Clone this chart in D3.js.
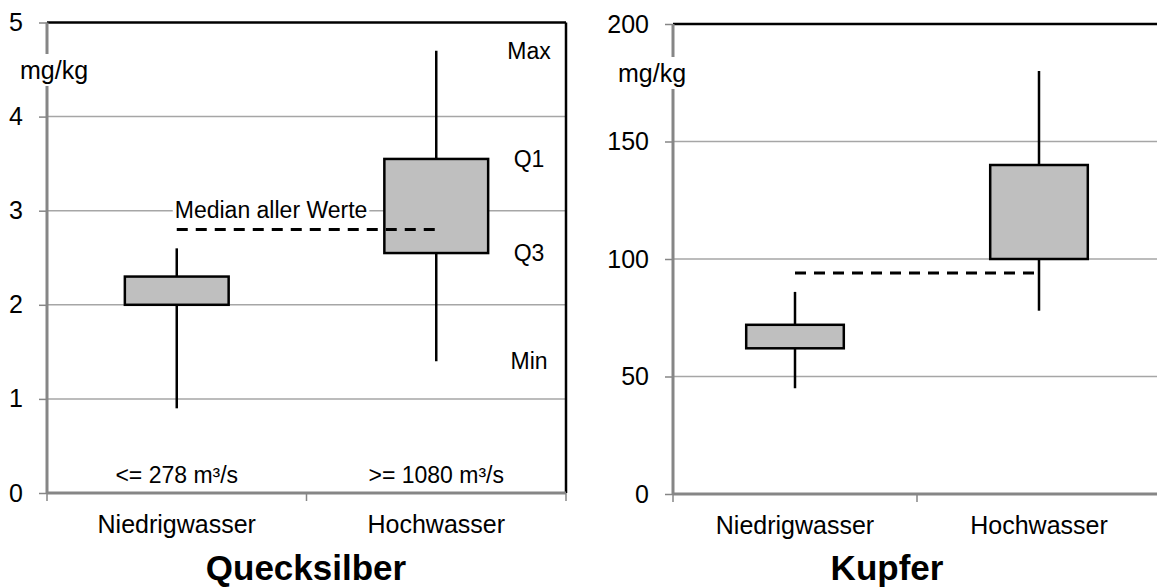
<!DOCTYPE html>
<html>
<head>
<meta charset="utf-8">
<script src="https://cdn.jsdelivr.net/npm/d3@7"></script>
<style>
  body { margin: 0; background: #fff; }
  svg { display: block; font-family: "Liberation Sans", Arial, sans-serif; }
</style>
</head>
<body>
<svg id="chart" width="1157" height="587"></svg>
<script>
// categories shared by both panels
const categories = ["Niedrigwasser", "Hochwasser"];
const flowLabels = ["<= 278 m³/s", ">= 1080 m³/s"];
const statLabels = ["Max", "Q1", "Q3", "Min"];

// Quecksilber (mg/kg)
const hgMin = [0.9, 1.4];
const hgBoxLow = [2.0, 2.55];
const hgBoxHigh = [2.3, 3.55];
const hgMax = [2.6, 4.7];
const hgMedianAll = 2.8;
const hgTicks = [0, 1, 2, 3, 4, 5];

// Kupfer (mg/kg)
const cuMin = [45, 78];
const cuBoxLow = [62, 100];
const cuBoxHigh = [72, 140];
const cuMax = [86, 180];
const cuMedianAll = 94;
const cuTicks = [0, 50, 100, 150, 200];

const svg = d3.select("#chart");

function drawPanel(p) {
  const g = svg.append("g");

  const x = d3.scaleBand()
    .domain(categories)
    .range([p.left, p.right]);

  const y = d3.scaleLinear()
    .domain([0, d3.max(p.ticks)])
    .range([p.bottom, p.top]);

  const cx = d => x(d) + x.bandwidth() / 2;
  const yTop = y(d3.max(p.ticks));

  // grid lines
  g.append("g")
    .selectAll("line")
    .data(p.ticks.filter(t => t > 0 && t < d3.max(p.ticks)))
    .join("line")
    .attr("x1", p.left).attr("x2", p.frameRight)
    .attr("y1", d => y(d)).attr("y2", d => y(d))
    .attr("stroke", "#a6a6a6")
    .attr("stroke-width", 1.5);

  // top frame and right frame
  g.append("line")
    .attr("x1", p.left).attr("x2", p.frameRight)
    .attr("y1", yTop).attr("y2", yTop)
    .attr("stroke", "#000").attr("stroke-width", 2.5);
  if (p.frameRight < 1157) {
    g.append("line")
      .attr("x1", p.frameRight).attr("x2", p.frameRight)
      .attr("y1", yTop).attr("y2", y(0))
      .attr("stroke", "#000").attr("stroke-width", 2.5);
  }

  // y axis
  const yAxis = g.append("g")
    .attr("transform", `translate(${p.left},0)`)
    .call(d3.axisLeft(y).tickValues(p.ticks).tickFormat(d3.format("d"))
      .tickSize(8).tickPadding(16));
  yAxis.select(".domain").attr("stroke", "#868686").attr("stroke-width", 3)
    .attr("d", `M0,${yTop}V${y(0)}`);
  yAxis.selectAll(".tick line").attr("stroke", "#868686").attr("stroke-width", 1.5);
  yAxis.selectAll(".tick text")
    .attr("fill", "#000")
    .attr("font-size", 25)
    .attr("font-family", "Liberation Sans, Arial, sans-serif");

  // x axis
  g.append("line")
    .attr("x1", p.left).attr("x2", p.frameRight)
    .attr("y1", y(0)).attr("y2", y(0))
    .attr("stroke", "#868686").attr("stroke-width", 3);
  const bounds = categories.map(c => x(c)).concat([p.right]);
  g.append("g")
    .selectAll("line")
    .data(bounds)
    .join("line")
    .attr("x1", d => d).attr("x2", d => d)
    .attr("y1", y(0)).attr("y2", y(0) + 8)
    .attr("stroke", "#868686").attr("stroke-width", 1.5);

  g.append("g")
    .selectAll("text")
    .data(categories)
    .join("text")
    .attr("x", d => cx(d))
    .attr("y", y(0) + 40)
    .attr("text-anchor", "middle")
    .style("font-size", "25px")
    .text(d => d);

  // unit label with white background over the axis
  const unit = g.append("text")
    .attr("x", p.unitX)
    .attr("y", p.unitY)
    .attr("text-anchor", "middle")
    .style("font-size", "25px")
    .text("mg/kg");
  const ub = unit.node().getBBox();
  g.insert("rect", () => unit.node())
    .attr("x", ub.x - 2).attr("y", ub.y - 2)
    .attr("width", ub.width + 4).attr("height", ub.height + 4)
    .attr("fill", "#fff");

  const data = categories.map((c, i) => ({
    cat: c, min: p.min[i], lo: p.lo[i], hi: p.hi[i], max: p.max[i]
  }));
  const boxW = x.bandwidth() * 0.4;

  // whiskers
  g.append("g")
    .selectAll("line")
    .data(data)
    .join("line")
    .attr("x1", d => cx(d.cat)).attr("x2", d => cx(d.cat))
    .attr("y1", d => y(d.min)).attr("y2", d => y(d.max))
    .attr("stroke", "#000").attr("stroke-width", 2.5);

  // boxes
  g.append("g")
    .selectAll("rect")
    .data(data)
    .join("rect")
    .attr("x", d => cx(d.cat) - boxW / 2)
    .attr("width", boxW)
    .attr("y", d => y(d.hi))
    .attr("height", d => y(d.lo) - y(d.hi))
    .attr("fill", "#bfbfbf")
    .attr("stroke", "#000")
    .attr("stroke-width", 2.5);

  // median of all values
  g.append("line")
    .attr("x1", cx(categories[0])).attr("x2", cx(categories[1]))
    .attr("y1", y(p.median)).attr("y2", y(p.median))
    .attr("stroke", "#000").attr("stroke-width", 3)
    .attr("stroke-dasharray", "11,8");

  if (p.annotate) {
    const med = g.append("text")
      .attr("x", cx(categories[0]) - 2)
      .attr("y", y(p.median) - 12)
      .style("font-size", "23px")
      .text("Median aller Werte");
    const mb = med.node().getBBox();
    g.insert("rect", () => med.node())
      .attr("x", mb.x - 2).attr("y", mb.y + 3)
      .attr("width", mb.width + 4).attr("height", mb.height - 6)
      .attr("fill", "#fff");

    const statVals = [p.max[1], p.hi[1], p.lo[1], p.min[1]];
    g.append("g")
      .selectAll("text")
      .data(statLabels)
      .join("text")
      .attr("x", p.statX)
      .attr("y", (d, i) => y(statVals[i]))
      .attr("dy", "0.35em")
      .attr("text-anchor", "middle")
      .style("font-size", "23px")
      .text(d => d);

    g.append("g")
      .selectAll("text")
      .data(flowLabels)
      .join("text")
      .attr("x", (d, i) => cx(categories[i]))
      .attr("y", y(0) - 10)
      .attr("text-anchor", "middle")
      .style("font-size", "23px")
      .text(d => d);
  }

  g.append("text")
    .attr("x", p.titleX)
    .attr("y", 580)
    .attr("text-anchor", "middle")
    .style("font-size", "35px")
    .style("font-weight", "bold")
    .text(p.title);
}

drawPanel({
  title: "Quecksilber", titleX: 306,
  left: 47, right: 566, frameRight: 566, top: 22.5, bottom: 493,
  ticks: hgTicks, min: hgMin, lo: hgBoxLow, hi: hgBoxHigh, max: hgMax,
  median: hgMedianAll, unitX: 54, unitY: 79, annotate: true, statX: 529
});

drawPanel({
  title: "Kupfer", titleX: 887,
  left: 673, right: 1161, frameRight: 1161, top: 24, bottom: 494,
  ticks: cuTicks, min: cuMin, lo: cuBoxLow, hi: cuBoxHigh, max: cuMax,
  median: cuMedianAll, unitX: 652, unitY: 82, annotate: false
});
</script>
</body>
</html>
